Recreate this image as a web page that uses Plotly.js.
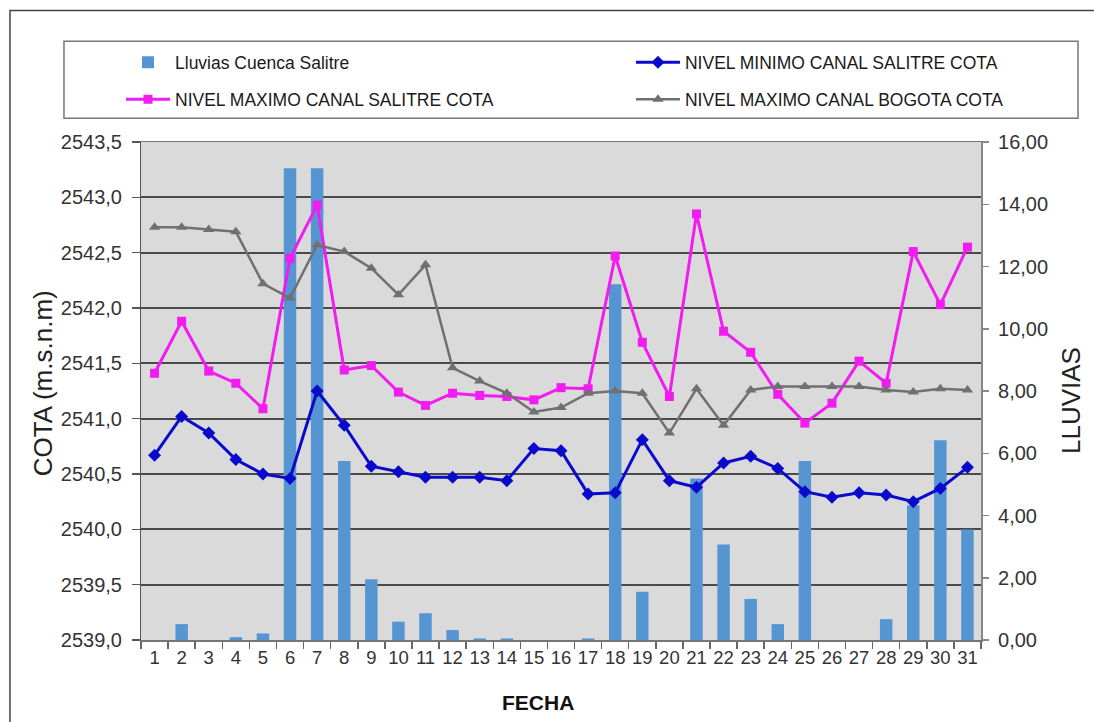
<!DOCTYPE html>
<html>
<head>
<meta charset="utf-8">
<script src="https://cdn.plot.ly/plotly-3.0.1.min.js"></script>
<style>
  html, body { margin: 0; padding: 0; background: #ffffff; }
  #chart { width: 1094px; height: 722px; }
</style>
</head>
<body>
<div id="chart"></div>
<script>
// Days of the month (category axis)
const dias = ['1','2','3','4','5','6','7','8','9','10','11','12','13','14','15','16',
              '17','18','19','20','21','22','23','24','25','26','27','28','29','30','31'];

// Rainfall, Salitre basin (right axis)
const lluviasCuencaSalitre = [0, 0.51, 0, 0.09, 0.21, 15.16, 15.16, 5.75, 1.95, 0.59, 0.86,
  0.32, 0.05, 0.05, 0, 0, 0.05, 11.43, 1.55, 0, 5.19, 3.07, 1.32, 0.51, 5.75, 0, 0, 0.67,
  4.33, 6.42, 3.55];

// Minimum level, Salitre canal (left axis)
const nivelMinimoSalitre = [2540.67, 2541.02, 2540.87, 2540.63, 2540.50, 2540.46, 2541.25,
  2540.94, 2540.57, 2540.52, 2540.47, 2540.47, 2540.47, 2540.44, 2540.73, 2540.71, 2540.32,
  2540.33, 2540.81, 2540.44, 2540.38, 2540.60, 2540.66, 2540.55, 2540.34, 2540.29, 2540.33,
  2540.31, 2540.25, 2540.37, 2540.56];

// Maximum level, Salitre canal (left axis)
const nivelMaximoSalitre = [2541.41, 2541.88, 2541.43, 2541.32, 2541.09, 2542.45, 2542.93,
  2541.44, 2541.48, 2541.24, 2541.12, 2541.23, 2541.21, 2541.20, 2541.17, 2541.28, 2541.27,
  2542.47, 2541.69, 2541.20, 2542.85, 2541.79, 2541.60, 2541.22, 2540.96, 2541.14, 2541.52,
  2541.32, 2542.51, 2542.03, 2542.55];

// Maximum level, Bogota canal (left axis)
const nivelMaximoBogota = [2542.73, 2542.73, 2542.71, 2542.69, 2542.22, 2542.09, 2542.57,
  2542.51, 2542.36, 2542.12, 2542.39, 2541.46, 2541.34, 2541.23, 2541.06, 2541.10, 2541.23,
  2541.25, 2541.23, 2540.87, 2541.27, 2540.94, 2541.26, 2541.29, 2541.29, 2541.29, 2541.29,
  2541.26, 2541.24, 2541.27, 2541.26];

const FONT = 'Liberation Sans, Arial, sans-serif';
const NBSP = '\u00a0';

const traces = [
  {
    type: 'bar', name: 'Lluvias Cuenca Salitre',
    x: dias, y: lluviasCuencaSalitre, xaxis: 'x', yaxis: 'y',
    marker: { color: '#5596d2' }, legend: 'legend'
  },
  {
    type: 'scatter', mode: 'lines+markers', name: 'NIVEL MINIMO CANAL SALITRE COTA',
    x: dias, y: nivelMinimoSalitre, xaxis: 'x', yaxis: 'y2',
    line: { color: '#0a0acd', width: 3 },
    marker: { symbol: 'diamond', size: 10, color: '#0a0acd' }, legend: 'legend2'
  },
  {
    type: 'scatter', mode: 'lines+markers', name: 'NIVEL MAXIMO CANAL SALITRE COTA',
    x: dias, y: nivelMaximoSalitre, xaxis: 'x', yaxis: 'y2',
    line: { color: '#f01cf0', width: 3 },
    marker: { symbol: 'square', size: 9, color: '#f01cf0' }, legend: 'legend3'
  },
  {
    type: 'scatter', mode: 'lines+markers', name: 'NIVEL MAXIMO CANAL BOGOTA COTA',
    x: dias, y: nivelMaximoBogota, xaxis: 'x', yaxis: 'y2',
    line: { color: '#707070', width: 2.5 },
    marker: { symbol: 'triangle-up', size: 10, color: '#707070' }, legend: 'legend4'
  }
];

function legendAt(x, y) {
  return {
    x: x, y: y, xanchor: 'left', yanchor: 'middle',
    orientation: 'h', bgcolor: 'rgba(0,0,0,0)', borderwidth: 0,
    itemwidth: 44, font: { family: FONT, size: 17.5, color: '#1a1a1a' }
  };
}

const layout = {
  width: 1094, height: 722,
  margin: { l: 141, r: 113, t: 142, b: 82, pad: 0 },
  paper_bgcolor: '#ffffff',
  plot_bgcolor: '#dadada',
  separators: ',.',
  bargap: 0.54,
  font: { family: FONT, color: '#333' },
  xaxis: {
    type: 'category', tickson: 'boundaries', tickangle: 0,
    ticks: 'outside', ticklen: 7, tickwidth: 1.5, tickcolor: '#666',
    showline: true, linecolor: '#777', linewidth: 1.5, mirror: true,
    showgrid: false, tickfont: { family: FONT, size: 18.5, color: '#333' },
    range: [-0.5, 30.5]
  },
  yaxis: {
    side: 'right', range: [0, 16], dtick: 2, tickformat: '.2f', tickprefix: NBSP,
    ticks: 'outside', ticklen: 6, tickwidth: 1.5, tickcolor: '#888',
    showline: true, linecolor: '#888', linewidth: 1.5,
    showgrid: false, zeroline: false,
    tickfont: { family: FONT, size: 20, color: '#333' }
  },
  yaxis2: {
    overlaying: 'y', side: 'left', range: [2539, 2543.5], dtick: 0.5, tickformat: '.1f',
    ticksuffix: NBSP,
    ticks: 'outside', ticklen: 8, tickwidth: 1.5, tickcolor: '#555',
    showline: true, linecolor: '#555', linewidth: 1.5,
    showgrid: true, gridcolor: '#4a4a4a', gridwidth: 1.8, zeroline: false,
    tickfont: { family: FONT, size: 20, color: '#333' }
  },
  showlegend: true,
  legend: legendAt(-0.0238, 1.160),
  legend2: legendAt(0.5833, 1.160),
  legend3: legendAt(-0.0238, 1.0857),
  legend4: legendAt(0.5833, 1.0857),
  shapes: [
    // outer frame (left and top edges)
    { type: 'rect', xref: 'paper', yref: 'paper', x0: -0.156, x1: 1.16, y0: -0.2, y1: 1.2643,
      line: { color: '#444', width: 1.5 }, fillcolor: 'rgba(0,0,0,0)', layer: 'above' },
    // legend box
    { type: 'rect', xref: 'paper', yref: 'paper', x0: -0.0917, x1: 1.1155, y0: 1.0476, y1: 1.2021,
      line: { color: '#777', width: 1.5 }, fillcolor: 'rgba(0,0,0,0)', layer: 'above' }
  ],
  annotations: [
    { text: 'COTA (m.s.n.m)', xref: 'paper', yref: 'paper', x: -0.1167, y: 0.5157,
      textangle: -90, showarrow: false, xanchor: 'center', yanchor: 'middle',
      font: { family: FONT, size: 26, color: '#222' } },
    { text: 'LLUVIAS', xref: 'paper', yref: 'paper', x: 1.107, y: 0.4816,
      textangle: -90, showarrow: false, xanchor: 'center', yanchor: 'middle',
      font: { family: FONT, size: 26, color: '#222' } },
    { text: '<b>FECHA</b>', xref: 'paper', yref: 'paper', x: 0.4726, y: -0.1264,
      showarrow: false, xanchor: 'center', yanchor: 'middle',
      font: { family: FONT, size: 21, color: '#111' } }
  ]
};

Plotly.newPlot('chart', traces, layout, { displayModeBar: false, staticPlot: true });
</script>
</body>
</html>
